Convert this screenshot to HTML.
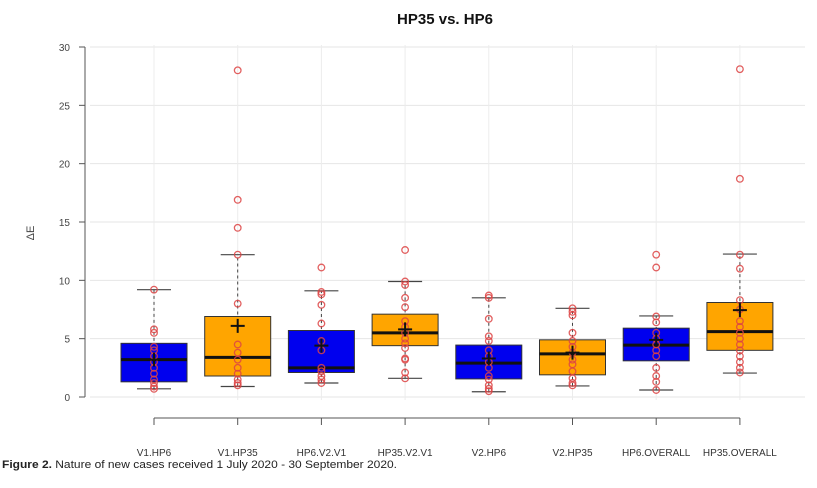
<!DOCTYPE html>
<html><head><meta charset="utf-8"><style>
body{margin:0;background:#fff;width:817px;height:483px;overflow:hidden;font-family:"Liberation Sans",sans-serif}
</style></head><body>
<svg id="chart" width="817" height="483" xmlns="http://www.w3.org/2000/svg" font-family="Liberation Sans, sans-serif">
<text x="445" y="24" text-anchor="middle" font-size="15" font-weight="bold" fill="#111">HP35 vs. HP6</text>
<text transform="translate(34,233) rotate(-90)" text-anchor="middle" font-size="11" fill="#444">ΔE</text>
<g id="grid"></g><g id="axes"></g><g id="boxes"></g>
<text x="2" y="468" font-size="11" fill="#222" textLength="395" lengthAdjust="spacingAndGlyphs"><tspan font-weight="bold">Figure 2.</tspan> Nature of new cases received 1 July 2020 - 30 September 2020.</text>
</svg>
<script>
const categories=["V1.HP6","V1.HP35","HP6.V2.V1","HP35.V2.V1","V2.HP6","V2.HP35","HP6.OVERALL","HP35.OVERALL"];
const whiskerLow=[0.7,0.9,1.2,1.6,0.45,0.95,0.6,2.05];
const q1=[1.3,1.8,2.1,4.4,1.55,1.9,3.1,4.0];
const medians=[3.2,3.4,2.5,5.5,2.9,3.7,4.45,5.6];
const q3=[4.6,6.9,5.7,7.1,4.45,4.9,5.9,8.1];
const whiskerHigh=[9.2,12.2,9.1,9.9,8.5,7.6,6.95,12.25];
const means=[3.2,6.1,4.4,5.8,3.3,3.8,4.9,7.45];
const points=[
[0.7,0.9,1.2,1.5,2,2.5,3,3.5,4,4.3,5.5,5.8,9.2],
[28,16.9,14.5,12.2,8,4.5,3.8,3.2,2.5,2,1.5,1.2,1],
[11.1,9,8.8,7.9,6.3,4.8,4,2.5,2.2,1.8,1.5,1.2],
[12.6,9.9,9.6,8.5,7.7,6.5,6,5.5,5,4.6,4.2,3.3,3.2,2.1,1.6],
[8.7,8.5,6.7,5.2,4.8,4,3.5,3,2.5,1.8,1.5,1,0.7,0.5],
[7.6,7.3,7,5.5,4.8,4.3,3.8,3.2,2.8,2.2,1.6,1.2,1],
[12.2,11.1,6.9,6.4,5.5,5,4.5,4,3.5,2.5,1.8,1.3,0.6],
[28.1,18.7,12.2,11,8.3,7.5,6.5,6,5.5,5,4.5,4,3.5,3,2.5,2.1]];
const yTicks=[0,5,10,15,20,25,30];
const colors=["#0000ee","#ffa500","#0000ee","#ffa500","#0000ee","#ffa500","#0000ee","#ffa500"];
const NS="http://www.w3.org/2000/svg";
const y=v=>397-v*(350/30);
const x=i=>154+i*83.7;
function mk(parent,tag,attrs){const e=document.createElementNS(NS,tag);for(const k in attrs)e.setAttribute(k,attrs[k]);document.getElementById(parent).appendChild(e);return e;}
yTicks.forEach(t=>{
  const g=mk('grid','line',{x1:90,x2:805,y1:y(t),y2:y(t),stroke:'#e6e6e6','stroke-width':1});
  
  
  const tk=mk('axes','line',{x1:79,x2:85,y1:y(t),y2:y(t),stroke:'#555'});
  
  
  const lb=mk('axes','text',{x:70,y:y(t)+4,'text-anchor':'end','font-size':10,fill:'#444'});
  lb.textContent=t;
  
  
});
const ya=mk('axes','line',{x1:85,x2:85,y1:y(30),y2:y(0),stroke:'#555'});


const xa=mk('axes','line',{x1:x(0),x2:x(categories.length-1),y1:418,y2:418,stroke:'#555'});


categories.forEach((c,i)=>{
  const cx=x(i);
  const vg=mk('grid','line',{x1:cx,x2:cx,y1:45,y2:400,stroke:'#ececec'});
  
  
  const tk=mk('axes','line',{x1:cx,x2:cx,y1:418,y2:425,stroke:'#555'});
  
  
  const lb=mk('axes','text',{x:cx,y:456,'text-anchor':'middle','font-size':10,fill:'#333'});
  lb.textContent=c;
  
  
  const w=mk('boxes','line',{x1:cx,x2:cx,y1:y(whiskerLow[i]),y2:y(whiskerHigh[i]),stroke:'#444','stroke-dasharray':'3,3'});
  
  
  [whiskerLow[i],whiskerHigh[i]].forEach(v=>{
    const c2=mk('boxes','line',{x1:cx-17,x2:cx+17,y1:y(v),y2:y(v),stroke:'#444','stroke-width':1.2});
    
    
  });
  const b=mk('boxes','rect',{x:cx-33,y:y(q3[i]),width:66,height:y(q1[i])-y(q3[i]),fill:colors[i],stroke:'#333','stroke-width':1});
  
  
  const m=mk('boxes','line',{x1:cx-33,x2:cx+33,y1:y(medians[i]),y2:y(medians[i]),stroke:'#111','stroke-width':3});
  
  
  points[i].forEach(v=>{
    const p=mk('boxes','circle',{cx:cx,cy:y(v),r:3.3,fill:'none',stroke:'#d44','stroke-width':1.3,opacity:0.85});
    
    
  });
  const mh=mk('boxes','path',{d:`M${cx-7},${y(means[i])}h14M${cx},${y(means[i])-7}v14`,stroke:'#111','stroke-width':2});
  
  
});
</script>
</body></html>
